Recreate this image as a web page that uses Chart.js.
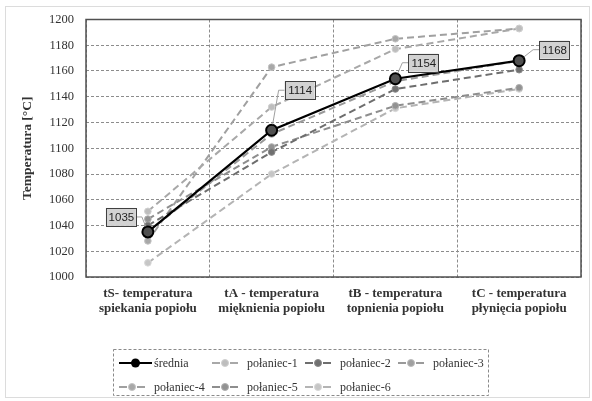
<!DOCTYPE html>
<html><head><meta charset="utf-8">
<script src="https://cdn.jsdelivr.net/npm/chart.js@4.4.1/dist/chart.umd.min.js"></script>
<style>html,body{margin:0;padding:0;background:#fff}#wrap{width:592px;height:401px;position:relative}</style>
</head><body><div id="wrap"><canvas id="c" width="592" height="401"></canvas></div>
<script>
const categories = [
  ["tS- temperatura", "spiekania popiołu"],
  ["tA - temperatura", "mięknienia popiołu"],
  ["tB - temperatura", "topnienia popiołu"],
  ["tC - temperatura", "płynięcia popiołu"]
];
const yTicks = [1000, 1020, 1040, 1060, 1080, 1100, 1120, 1140, 1160, 1180, 1200];
const seriesNames = ["średnia", "połaniec-1", "połaniec-2", "połaniec-3", "połaniec-4", "połaniec-5", "połaniec-6"];
const srednia   = [1035, 1114, 1154, 1168];
const polaniec1 = [1051, 1132, 1177, 1193];
const polaniec2 = [1040, 1097, 1146, 1161];
const polaniec3 = [1035, 1111, 1152, 1168];
const polaniec4 = [1028, 1163, 1185, 1193];
const polaniec5 = [1045, 1101, 1133, 1147];
const polaniec6 = [1011, 1080, 1131, 1146];

const serif = "'Liberation Serif', 'DejaVu Serif', serif";
const sans = "'Liberation Sans', Arial, sans-serif";

const greyStyles = [
  {line: '#a8a8a8', fill: '#bdbdbd', border: '#d0d0d0'},
  {line: '#6e6e6e', fill: '#707070', border: '#8a8a8a'},
  {line: '#9a9a9a', fill: '#a0a0a0', border: '#bcbcbc'},
  {line: '#a0a0a0', fill: '#a8a8a8', border: '#c4c4c4'},
  {line: '#8e8e8e', fill: '#929292', border: '#b0b0b0'},
  {line: '#b4b4b4', fill: '#c6c6c6', border: '#d8d8d8'}
];
const polSeries = [polaniec1, polaniec2, polaniec3, polaniec4, polaniec5, polaniec6];

const datasets = [{
  label: seriesNames[0], data: srednia,
  borderColor: '#000', borderWidth: 2.2,
  pointRadius: 5.5, pointBackgroundColor: '#505050', pointBorderColor: '#000', pointBorderWidth: 2,
  tension: 0
}].concat(polSeries.map((d, i) => ({
  label: seriesNames[i + 1], data: d,
  borderColor: greyStyles[i].line, borderWidth: 2, borderDash: [7, 4],
  pointRadius: 3.3, pointBackgroundColor: greyStyles[i].fill, pointBorderColor: greyStyles[i].border, pointBorderWidth: 1,
  tension: 0
})));

const framePlugin = {
  id: 'frame',
  beforeDraw(chart) {
    const ctx = chart.ctx;
    ctx.save();
    ctx.fillStyle = '#fff';
    ctx.fillRect(0, 0, chart.width, chart.height);
    ctx.strokeStyle = '#dcdcdc';
    ctx.lineWidth = 1;
    ctx.strokeRect(5.5, 6.5, 584, 391);
    ctx.restore();
  },
  beforeDatasetsDraw(chart) {
    const a = chart.chartArea, ctx = chart.ctx;
    ctx.save();
    ctx.strokeStyle = '#505050';
    ctx.lineWidth = 1.5;
    ctx.strokeRect(a.left, a.top, a.right - a.left, a.bottom - a.top);
    ctx.restore();
  }
};

const labelOffsets = [[-27, -15], [28, -40], [28, -16], [35, -11]];
const labelPlugin = {
  id: 'meanLabels',
  afterDatasetsDraw(chart) {
    const meta = chart.getDatasetMeta(0);
    const ctx = chart.ctx;
    const values = chart.data.datasets[0].data;
    meta.data.forEach((pt, i) => {
      const [dx, dy] = labelOffsets[i];
      const w = 30, h = 18;
      const cx = pt.x + dx, cy = pt.y + dy;
      ctx.save();
      ctx.strokeStyle = '#a0a0a0';
      ctx.lineWidth = 1;
      const ex = dx < 0 ? cx + w / 2 : cx - w / 2;
      const kx = dx < 0 ? ex + 6 : ex - 6;
      const vx = pt.x - kx, vy = pt.y - cy;
      const len = Math.hypot(vx, vy);
      ctx.beginPath();
      ctx.moveTo(ex, cy);
      ctx.lineTo(kx, cy);
      ctx.lineTo(pt.x - vx / len * 6, pt.y - vy / len * 6);
      ctx.stroke();
      ctx.fillStyle = '#d2d2d2';
      ctx.fillRect(cx - w / 2, cy - h / 2, w, h);
      ctx.strokeStyle = '#404040';
      ctx.lineWidth = 1;
      ctx.strokeRect(Math.round(cx - w / 2) + 0.5, Math.round(cy - h / 2) + 0.5, w, h);
      ctx.fillStyle = '#222';
      ctx.font = '11.5px ' + sans;
      ctx.textAlign = 'center';
      ctx.textBaseline = 'middle';
      ctx.fillText(String(values[i]), cx + 0.5, cy + 1);
      ctx.restore();
    });
  }
};

const legendPlugin = {
  id: 'boxLegend',
  afterDraw(chart) {
    const ctx = chart.ctx;
    const cols = [119, 212, 305, 398];
    const rows = [363, 387];
    ctx.save();
    ctx.strokeStyle = '#8a8a8a';
    ctx.lineWidth = 1;
    ctx.setLineDash([3, 2]);
    ctx.strokeRect(113.5, 349.5, 375, 46);
    ctx.setLineDash([]);
    chart.data.datasets.forEach((ds, i) => {
      const col = i < 4 ? i : i - 4;
      const x = cols[col], y = rows[i < 4 ? 0 : 1];
      if (i === 0) {
        ctx.strokeStyle = '#000'; ctx.lineWidth = 2.2;
        ctx.beginPath(); ctx.moveTo(x, y); ctx.lineTo(x + 33, y); ctx.stroke();
        ctx.beginPath(); ctx.arc(x + 16.5, y, 4.5, 0, Math.PI * 2);
        ctx.fillStyle = '#000'; ctx.fill();
      } else {
        const W = 26;
        ctx.strokeStyle = ds.borderColor; ctx.lineWidth = 2;
        ctx.beginPath(); ctx.moveTo(x, y); ctx.lineTo(x + 8, y); ctx.stroke();
        ctx.beginPath(); ctx.moveTo(x + W - 8, y); ctx.lineTo(x + W, y); ctx.stroke();
        ctx.beginPath(); ctx.arc(x + W / 2, y, 3.5, 0, Math.PI * 2);
        ctx.fillStyle = ds.pointBackgroundColor; ctx.fill();
        ctx.strokeStyle = ds.pointBorderColor; ctx.lineWidth = 1; ctx.stroke();
      }
      ctx.fillStyle = '#333';
      ctx.font = '12px ' + serif;
      ctx.textAlign = 'left';
      ctx.textBaseline = 'middle';
      ctx.fillText(ds.label, x + 35, y + 1);
    });
    ctx.restore();
  }
};

new Chart(document.getElementById('c'), {
  type: 'line',
  data: { labels: categories, datasets: datasets },
  options: {
    responsive: false,
    animation: false,
    layout: { padding: { top: 17, right: 11, left: 0, bottom: 0 } },
    plugins: { legend: { display: false }, tooltip: { enabled: false } },
    scales: {
      x: {
        offset: true,
        grid: { color: '#8c8c8c', lineWidth: 1, drawTicks: false, offset: true },
        border: { display: false, dash: [3, 2] },
        ticks: { color: '#333', padding: 9, font: { family: serif, size: 13, weight: 'bold', lineHeight: 1.15 }, maxRotation: 0, autoSkip: false },
        afterFit(s) { s.height = 124; }
      },
      y: {
        min: 1000, max: 1200,
        afterBuildTicks(s) { s.ticks = yTicks.map(v => ({ value: v })); },
        grid: { color: '#8c8c8c', lineWidth: 1, drawTicks: false },
        border: { display: false, dash: [3, 2] },
        ticks: { color: '#333', padding: 12, font: { family: serif, size: 12.5 }, callback: v => String(v) },
        title: { display: true, text: 'Temperatura [°C]', color: '#333', padding: { top: 19, bottom: 0 }, font: { family: serif, size: 13.5, weight: 'bold' } },
        afterFit(s) { s.width = 86; }
      }
    }
  },
  plugins: [framePlugin, labelPlugin, legendPlugin]
});
</script>
</body></html>
